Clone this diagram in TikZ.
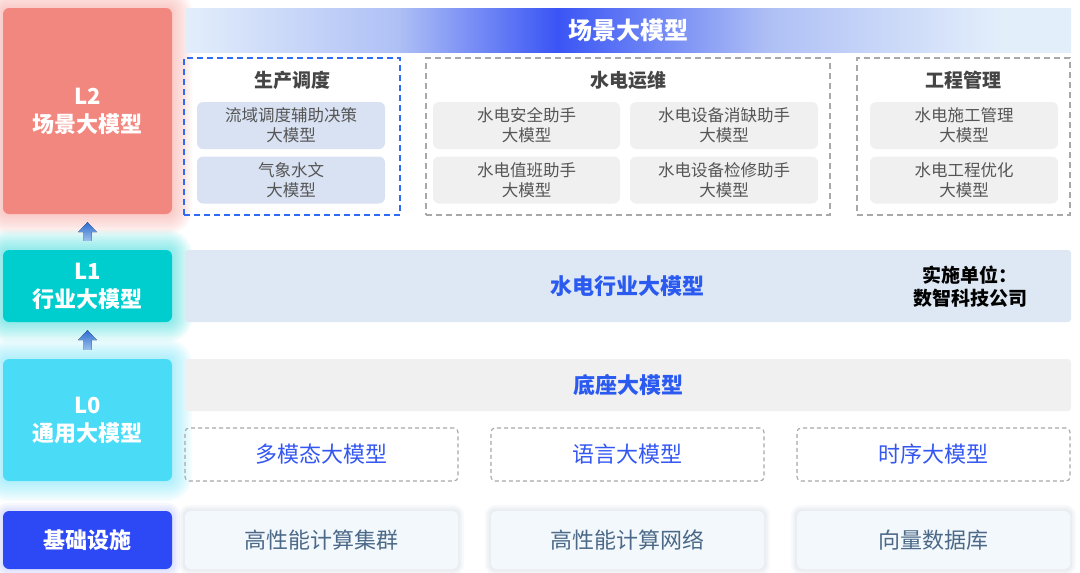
\documentclass[tikz,border=0pt]{standalone}
\usepackage{fontspec}
\setmainfont{Noto Sans CJK SC}
\usetikzlibrary{calc}
\definecolor{ltwo}{HTML}{F2877F}
\definecolor{lone}{HTML}{00CECE}
\definecolor{lzero}{HTML}{4ADBF6}
\definecolor{infra}{HTML}{2D48F5}
\definecolor{bA}{HTML}{E3EEFB}
\definecolor{bB}{HTML}{AFC0F5}
\definecolor{bC}{HTML}{3A55F5}
\definecolor{itemblue}{HTML}{D9E2F3}
\definecolor{itemgray}{HTML}{F0F0F0}
\definecolor{bandblue}{HTML}{DDE8F4}
\definecolor{bandgray}{HTML}{F0F0F0}
\definecolor{botfill}{HTML}{F3F8FD}
\definecolor{titlegray}{HTML}{454545}
\definecolor{itemtext}{HTML}{555555}
\definecolor{boldblue}{HTML}{2B5AF0}
\definecolor{regblue}{HTML}{3457F2}
\definecolor{bottext}{HTML}{4C6A88}
\definecolor{dashblue}{HTML}{2F6BF5}
\definecolor{dashgray}{HTML}{A8A8A8}
\definecolor{arrtop}{HTML}{2E6CD0}
\definecolor{arrbot}{HTML}{9CC0EC}
\pgfdeclarehorizontalshading{bannershade}{100bp}{color(0bp)=(bA); color(25bp)=(bA); color(37bp)=(bB); color(46bp)=(bC); color(58bp)=(bB); color(71bp)=(bA); color(100bp)=(bA)}
\pgfdeclarelayer{background}
\pgfsetlayers{background,main}
\newcommand{\glowbox}[4]{%
  \foreach \r in {2,4,...,#3}{%
    \fill[#2, opacity=#4, rounded corners=\r pt+5pt] ([xshift=-\r pt,yshift=-\r pt]#1.south west) rectangle ([xshift=\r pt,yshift=\r pt]#1.north east);}}
\tikzset{
  layerbox/.style={rounded corners=6pt, inner sep=0pt, align=center, text=white, font=\fontsize{22}{28}\selectfont\bfseries},
  bandbox/.style={rounded corners=3pt, inner sep=0pt, align=center},
  groupblue/.style={draw=dashblue, line width=1.6pt, dash pattern=on 6pt off 4pt, inner sep=0pt},
  groupgray/.style={draw=dashgray, line width=1.6pt, dash pattern=on 6pt off 4pt, inner sep=0pt},
  grouptitle/.style={inner sep=0pt, text=titlegray, font=\fontsize{19}{23}\selectfont\bfseries},
  itembox/.style={rounded corners=6pt, inner sep=0pt, align=center, text=itemtext, font=\fontsize{16.5}{20}\selectfont, minimum height=47pt},
  modelbox/.style={draw=dashgray, line width=1.1pt, dash pattern=on 4pt off 3pt, rounded corners=4pt, inner sep=0pt, text=regblue, font=\fontsize{22}{26}\selectfont, minimum width=273pt, minimum height=53pt},
  infrabox/.style={fill=botfill, rounded corners=6pt, inner sep=0pt, text=bottext, font=\fontsize{22}{26}\selectfont, minimum width=273pt, minimum height=58pt},
}
\begin{document}
\begin{tikzpicture}[x=1pt,y=-1pt]
\useasboundingbox (0,0) rectangle (1080,573);
% left layer boxes
\node[layerbox, fill=ltwo, minimum width=169pt, minimum height=206pt] (L2) at (87.5,111) {L2\\场景大模型};
\node[layerbox, fill=lone, minimum width=169pt, minimum height=72pt] (L1) at (87.5,286) {L1\\行业大模型};
\node[layerbox, fill=lzero, minimum width=169pt, minimum height=122pt] (L0) at (87.5,420) {L0\\通用大模型};
\node[layerbox, fill=infra, minimum width=169pt, minimum height=58pt] (INF) at (87.5,540) {基础设施};
% banner
\node[bandbox, rounded corners=0pt, shading=bannershade, minimum width=886pt, minimum height=44pt, text=white, font=\fontsize{24}{28}\selectfont\bfseries] (BAN) at (628,30) {场景大模型};
% groups
\node[groupblue, minimum width=216pt, minimum height=157pt] (G1) at (292,136.5) {};
\node[groupgray, minimum width=404pt, minimum height=157pt] (G2) at (628,136.5) {};
\node[groupgray, minimum width=213pt, minimum height=157pt] (G3) at (963.5,136.5) {};
\node[grouptitle] (T1) at (292,80) {生产调度};
\node[grouptitle] (T2) at (628,80) {水电运维};
\node[grouptitle] (T3) at (963.5,80) {工程管理};
% items
\node[itembox, fill=itemblue, minimum width=188pt] (A1) at (291,125.5) {流域调度辅助决策\\大模型};
\node[itembox, fill=itemblue, minimum width=188pt] (A2) at (291,180) {气象水文\\大模型};
\node[itembox, fill=itemgray, minimum width=187pt] (B1) at (526.5,125.5) {水电安全助手\\大模型};
\node[itembox, fill=itemgray, minimum width=188pt] (B2) at (724,125.5) {水电设备消缺助手\\大模型};
\node[itembox, fill=itemgray, minimum width=187pt] (B3) at (526.5,180) {水电值班助手\\大模型};
\node[itembox, fill=itemgray, minimum width=188pt] (B4) at (724,180) {水电设备检修助手\\大模型};
\node[itembox, fill=itemgray, minimum width=188pt] (C1) at (964,125.5) {水电施工管理\\大模型};
\node[itembox, fill=itemgray, minimum width=188pt] (C2) at (964,180) {水电工程优化\\大模型};
% L1 band
\node[bandbox, fill=bandblue, minimum width=886pt, minimum height=72pt] (IND) at (628,286) {};
\node[inner sep=0pt, text=boldblue, font=\fontsize{22}{26}\selectfont\bfseries] (INDT) at (627,286) {水电行业大模型};
\node[inner sep=0pt, align=center, text=black, font=\fontsize{19}{23}\selectfont\bfseries] (ORG) at (970,287) {实施单位：\\数智科技公司};
% base band
\node[bandbox, fill=bandgray, minimum width=886pt, minimum height=52pt, text=boldblue, font=\fontsize{22}{26}\selectfont\bfseries] (BASE) at (628,385) {底座大模型};
% model boxes
\node[modelbox] (M1) at (321.5,454.5) {多模态大模型};
\node[modelbox] (M2) at (627.5,454.5) {语言大模型};
\node[modelbox] (M3) at (933.5,454.5) {时序大模型};
% infra boxes
\node[infrabox] (I1) at (321.5,540) {高性能计算集群};
\node[infrabox] (I2) at (627.5,540) {高性能计算网络};
\node[infrabox] (I3) at (933.5,540) {向量数据库};
% glows
\begin{pgfonlayer}{background}
\glowbox{L2}{ltwo}{20}{0.05}
\glowbox{L1}{lone}{20}{0.05}
\glowbox{L0}{lzero}{20}{0.05}
\glowbox{INF}{infra}{8}{0.04}
\glowbox{I1}{bottext}{6}{0.04}
\glowbox{I2}{bottext}{6}{0.04}
\glowbox{I3}{bottext}{6}{0.04}
\end{pgfonlayer}
% arrows
\foreach \lo/\hi in {L1/L2, L0/L1}{
  \fill[top color=arrtop, bottom color=arrbot]
    ($(\hi.south)+(0,8)$) -- ($(\hi.south)+(9.5,18)$) -- ($(\hi.south)+(4,18)$) -- ($(\lo.north)+(4,-9)$)
    -- ($(\lo.north)+(-4,-9)$) -- ($(\hi.south)+(-4,18)$) -- ($(\hi.south)+(-9.5,18)$) -- cycle;
}
\end{tikzpicture}
\end{document}
